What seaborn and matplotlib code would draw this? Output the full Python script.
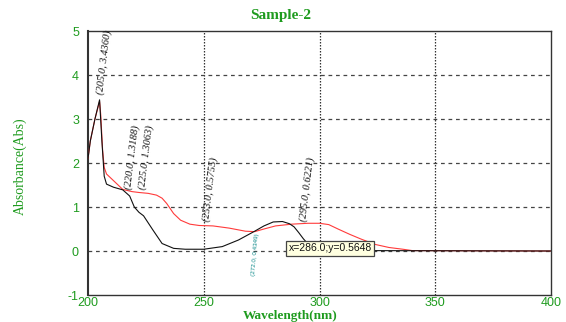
import matplotlib
matplotlib.use("Agg")
import matplotlib.pyplot as plt
import seaborn as sns
import pandas as pd

# ---- data ----
wl_black = [200, 201, 203, 205, 206, 207, 208, 211, 215, 218, 220, 222, 224, 228, 232, 237, 242,
            250, 258, 265, 272, 276, 280, 284, 287, 289, 291, 293, 296, 300, 310, 400]
abs_black = [2.10, 2.50, 3.00, 3.436, 2.50, 1.70, 1.52, 1.45, 1.39, 1.25, 1.00, 0.88, 0.80, 0.48,
             0.17, 0.06, 0.04, 0.04, 0.10, 0.25, 0.45, 0.57, 0.66, 0.67, 0.62, 0.55, 0.42, 0.28,
             0.10, 0.02, 0.01, 0.00]

wl_red = [200, 201, 203, 205, 205.5, 206.3, 207, 208, 211, 215, 219, 222, 226, 229.6, 232, 234,
          237, 240, 244, 248, 254, 261, 268, 272, 276, 281, 288, 295, 300, 304, 308, 313, 318,
          324, 330, 336, 340, 400]
abs_red = [2.10, 2.50, 3.00, 3.40, 3.10, 2.30, 1.90, 1.75, 1.60, 1.40, 1.35, 1.33, 1.31, 1.27,
           1.20, 1.08, 0.85, 0.70, 0.61, 0.58, 0.57, 0.52, 0.45, 0.44, 0.50, 0.57, 0.61, 0.63,
           0.63, 0.60, 0.50, 0.38, 0.27, 0.15, 0.08, 0.04, 0.01, 0.00]

peak_labels = ["(205.0, 3.4360)", "(220.0, 1.3188)", "(225.0, 1.3063)", "(253.0, 0.5755)",
               "(295.0, 0.6221)"]
peak_x = [206.9, 219.2, 225.0, 252.6, 294.8]
peak_y = [3.55, 1.39, 1.39, 0.66, 0.66]
valley_label = "(272.0, 0.4349)"
cursor_label = "x=286.0;y=0.5648"

xticks = [200, 250, 300, 350, 400]
yticks = [-1, 0, 1, 2, 3, 4, 5]

GREEN = "#1e9b1e"

sns.set_style("white")
plt.rcParams['font.family'] = ['Liberation Serif', 'DejaVu Serif']
plt.rcParams['axes.unicode_minus'] = False

fig = plt.figure(figsize=(5.66, 3.22), dpi=100)
ax = fig.add_axes([88/566, 27/322, (551-88)/566, (295-31)/322])

df_b = pd.DataFrame({"wl": wl_black, "abs": abs_black})
df_r = pd.DataFrame({"wl": wl_red, "abs": abs_red})
sns.lineplot(data=df_r, x="wl", y="abs", color="#ff3b3b", lw=0.8, ax=ax, sort=False, estimator=None, zorder=3)
sns.lineplot(data=df_b, x="wl", y="abs", color="#111111", lw=0.8, ax=ax, sort=False, estimator=None, zorder=4)

ax.set_xlim(200, 400)
ax.set_ylim(-1, 5)
ax.set_xticks(xticks)
ax.set_yticks(yticks)
ax.set_xlabel("")
ax.set_ylabel("")
for v in xticks[1:-1]:
    ax.axvline(v, color="#333333", lw=0.9, ls=(0, (1.2, 1.2)), zorder=1)
for v in yticks[1:-1]:
    ax.axhline(v, color="#444444", lw=0.9, ls=(0, (3, 3)), zorder=1)

for s in ax.spines.values():
    s.set_color("#333333")
    s.set_linewidth(1.0)
ax.spines['left'].set_linewidth(1.5)

ax.tick_params(length=0, colors=GREEN, labelsize=9)
ax.tick_params(axis='x', pad=1.5)
ax.tick_params(axis='y', pad=6.5)
for lab in ax.get_xticklabels() + ax.get_yticklabels():
    lab.set_family(['Liberation Sans', 'DejaVu Sans'])
    lab.set_color(GREEN)

for t, x, y in zip(peak_labels, peak_x, peak_y):
    ax.text(x, y, t, rotation=83, ha="center", va="bottom", fontsize=7.5,
            style="italic", color="#111111", zorder=5)
ax.text(272.4, 0.41, valley_label, rotation=85, ha="center", va="top", fontsize=4.5,
        color="#0e8a8a", zorder=5, family=['Liberation Sans', 'DejaVu Sans'])

ax.text(286.6, 0.057, cursor_label, ha="left", va="center", fontsize=7.5,
        family=['Liberation Sans', 'DejaVu Sans'], color="#111111", zorder=6,
        bbox=dict(boxstyle="square,pad=0.25", facecolor="#ffffe0", edgecolor="#444444", lw=0.9))

fig.text(281/566, 1 - 15/322, "Sample-2", ha="center", va="center", fontsize=11,
         fontweight="bold", color=GREEN)
fig.text(290/566, 1 - 316/322, "Wavelength(nm)", ha="center", va="center", fontsize=9.5,
         fontweight="bold", color=GREEN)
fig.text(20/566, 1 - 166/322, "Absorbance(Abs)", ha="center", va="center", fontsize=10,
         rotation=90, color=GREEN)

fig.savefig("out.png", dpi=100)
